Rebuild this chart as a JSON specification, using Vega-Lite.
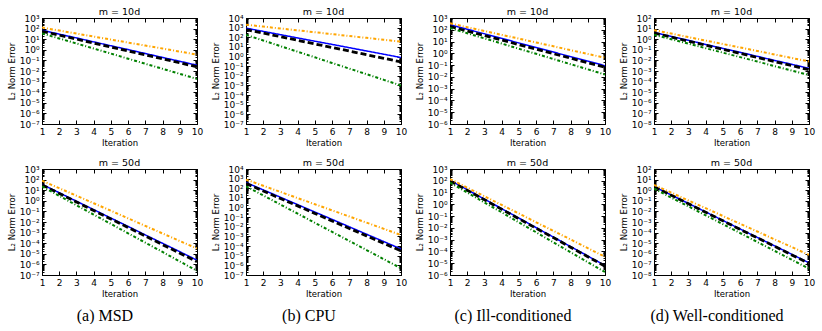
{
  "$schema": "https://vega.github.io/schema/vega-lite/v6.json",
  "background": "white",
  "padding": {"left": 6, "top": 6, "right": 0, "bottom": 0},
  "datasets": {
    "a10": [
      {"it":1,"b":71,"k":56,"o":126,"g":35.5},
      {"it":2,"b":30,"k":24,"o":66,"g":11.7},
      {"it":3,"b":13.2,"k":10.2,"o":34,"g":4.0},
      {"it":4,"b":5.6,"k":4.3,"o":17.8,"g":1.32},
      {"it":5,"b":2.4,"k":1.8,"o":9.3,"g":0.44},
      {"it":6,"b":1.05,"k":0.78,"o":4.8,"g":0.145},
      {"it":7,"b":0.45,"k":0.33,"o":2.5,"g":0.048},
      {"it":8,"b":0.19,"k":0.14,"o":1.32,"g":0.0162},
      {"it":9,"b":0.083,"k":0.059,"o":0.68,"g":0.0054},
      {"it":10,"b":0.035,"k":0.025,"o":0.355,"g":0.00178}
    ],
    "b10": [
      {"it":1,"b":891,"k":631,"o":1995,"g":178},
      {"it":2,"b":407,"k":269,"o":1288,"g":46.8},
      {"it":3,"b":186,"k":115,"o":813,"g":12.0},
      {"it":4,"b":85,"k":48,"o":525,"g":3.16},
      {"it":5,"b":39,"k":20.4,"o":331,"g":0.83},
      {"it":6,"b":18.2,"k":8.7,"o":214,"g":0.214},
      {"it":7,"b":8.3,"k":3.7,"o":135,"g":0.056},
      {"it":8,"b":3.8,"k":1.55,"o":87,"g":0.0148},
      {"it":9,"b":1.74,"k":0.66,"o":55,"g":0.0038},
      {"it":10,"b":0.79,"k":0.28,"o":35.5,"g":0.001}
    ],
    "c10": [
      {"it":1,"b":269,"k":191,"o":355,"g":141},
      {"it":2,"b":110,"k":79,"o":166,"g":51},
      {"it":3,"b":45.7,"k":32,"o":79,"g":18.6},
      {"it":4,"b":18.6,"k":13.5,"o":37,"g":6.8},
      {"it":5,"b":7.6,"k":5.5,"o":17.8,"g":2.45},
      {"it":6,"b":3.16,"k":2.3,"o":8.3,"g":0.91},
      {"it":7,"b":1.29,"k":0.93,"o":4.0,"g":0.33},
      {"it":8,"b":0.525,"k":0.39,"o":1.86,"g":0.12},
      {"it":9,"b":0.219,"k":0.158,"o":0.89,"g":0.044},
      {"it":10,"b":0.089,"k":0.066,"o":0.42,"g":0.0158}
    ],
    "d10": [
      {"it":1,"b":4.4,"k":3.8,"o":7.2,"g":2.6},
      {"it":2,"b":1.82,"k":1.58,"o":3.4,"g":1.0},
      {"it":3,"b":0.78,"k":0.65,"o":1.58,"g":0.38},
      {"it":4,"b":0.32,"k":0.27,"o":0.74,"g":0.141},
      {"it":5,"b":0.135,"k":0.11,"o":0.35,"g":0.054},
      {"it":6,"b":0.058,"k":0.046,"o":0.166,"g":0.0204},
      {"it":7,"b":0.024,"k":0.0186,"o":0.078,"g":0.0078},
      {"it":8,"b":0.01,"k":0.0078,"o":0.036,"g":0.0029},
      {"it":9,"b":0.0043,"k":0.0032,"o":0.017,"g":0.0011},
      {"it":10,"b":0.00178,"k":0.0013,"o":0.0079,"g":0.00042}
    ],
    "a50": [
      {"it":1,"b":35.5,"k":31.6,"o":79,"g":22.4},
      {"it":2,"b":5.8,"k":4.9,"o":15.5,"g":2.95},
      {"it":3,"b":0.91,"k":0.78,"o":3.0,"g":0.38},
      {"it":4,"b":0.148,"k":0.12,"o":0.59,"g":0.05},
      {"it":5,"b":0.0234,"k":0.019,"o":0.115,"g":0.0066},
      {"it":6,"b":0.0038,"k":0.003,"o":0.022,"g":0.00085},
      {"it":7,"b":0.0006,"k":0.00047,"o":0.0043,"g":0.000112},
      {"it":8,"b":9.8e-5,"k":7.2e-5,"o":0.00083,"g":1.48e-5},
      {"it":9,"b":1.58e-5,"k":1.15e-5,"o":0.00016,"g":1.9e-6},
      {"it":10,"b":2.5e-6,"k":1.8e-6,"o":3.2e-5,"g":2.5e-7}
    ],
    "b50": [
      {"it":1,"b":398,"k":316,"o":794,"g":158},
      {"it":2,"b":68,"k":52,"o":182,"g":18.2},
      {"it":3,"b":11.7,"k":8.7,"o":42,"g":2.04},
      {"it":4,"b":2.0,"k":1.48,"o":9.5,"g":0.234},
      {"it":5,"b":0.34,"k":0.245,"o":2.2,"g":0.026},
      {"it":6,"b":0.059,"k":0.041,"o":0.51,"g":0.003},
      {"it":7,"b":0.01,"k":0.0068,"o":0.117,"g":0.00034},
      {"it":8,"b":0.0017,"k":0.00115,"o":0.027,"g":3.9e-5},
      {"it":9,"b":0.000295,"k":0.00019,"o":0.0062,"g":4.4e-6},
      {"it":10,"b":5.0e-5,"k":3.2e-5,"o":0.0014,"g":5.0e-7}
    ],
    "c50": [
      {"it":1,"b":112,"k":100,"o":141,"g":71},
      {"it":2,"b":17.4,"k":15.5,"o":26,"g":10.2},
      {"it":3,"b":2.75,"k":2.45,"o":4.8,"g":1.45},
      {"it":4,"b":0.43,"k":0.38,"o":0.89,"g":0.21},
      {"it":5,"b":0.068,"k":0.06,"o":0.166,"g":0.0295},
      {"it":6,"b":0.0105,"k":0.0093,"o":0.03,"g":0.0043},
      {"it":7,"b":0.00166,"k":0.0015,"o":0.0056,"g":0.0006},
      {"it":8,"b":0.00026,"k":0.00023,"o":0.00105,"g":8.7e-5},
      {"it":9,"b":4.1e-5,"k":3.6e-5,"o":0.00019,"g":1.23e-5},
      {"it":10,"b":6.3e-6,"k":5.6e-6,"o":3.5e-5,"g":1.8e-6}
    ],
    "d50": [
      {"it":1,"b":2.24,"k":2.14,"o":3.16,"g":1.41},
      {"it":2,"b":0.355,"k":0.34,"o":0.59,"g":0.2},
      {"it":3,"b":0.056,"k":0.052,"o":0.107,"g":0.0295},
      {"it":4,"b":0.0089,"k":0.0083,"o":0.02,"g":0.0043},
      {"it":5,"b":0.0014,"k":0.0013,"o":0.0037,"g":0.00062},
      {"it":6,"b":0.00022,"k":0.0002,"o":0.00068,"g":9.1e-5},
      {"it":7,"b":3.5e-5,"k":3.2e-5,"o":0.000126,"g":1.3e-5},
      {"it":8,"b":5.6e-6,"k":5.1e-6,"o":2.3e-5,"g":1.9e-6},
      {"it":9,"b":8.9e-7,"k":7.9e-7,"o":4.3e-6,"g":2.75e-7},
      {"it":10,"b":1.4e-7,"k":1.26e-7,"o":7.9e-7,"g":4.0e-8}
    ]
  },
  "config": {
    "font": "DejaVu Sans",
    "view": {"stroke": "black", "strokeWidth": 1},
    "axis": {
      "grid": false,
      "domainColor": "black",
      "tickColor": "black",
      "labelColor": "black",
      "titleColor": "black",
      "labelFont": "DejaVu Sans",
      "titleFont": "DejaVu Sans",
      "labelFontSize": 9,
      "titleFontSize": 8.5,
      "titleFontWeight": "normal",
      "tickSize": -4,
      "labelPadding": 7,
      "labelFlush": false,
      "labelOverlap": false
    },
    "axisX": {"titlePadding": 2},
    "axisY": {"titlePadding": 3},
    "axisTop": {"minExtent": 0, "maxExtent": 0, "labels": false, "domain": false},
    "axisRight": {"minExtent": 0, "maxExtent": 0, "labels": false, "domain": false},
    "title": {"font": "DejaVu Sans", "fontSize": 9.5, "fontWeight": "normal", "offset": -2, "color": "black"},
    "concat": {"spacing": 6}
  },
  "hconcat": [
    {
      "title": {"text": "(a) MSD", "orient": "bottom", "anchor": "middle", "font": "Liberation Serif", "fontSize": 16, "fontWeight": "normal", "offset": 10},
      "spacing": 10,
      "vconcat": [
        {
          "data": {"name": "a10"}, "title": {"text": "m = 10d", "fontWeight": "normal"}, "width": 155, "height": 106,
          "transform": [{"fold": ["b", "k", "o", "g"], "as": ["s", "e"]}],
          "layer": [
            {
              "mark": {"type": "line", "clip": true},
              "encoding": {
                "x": {"field": "it", "type": "quantitative", "scale": {"domain": [1, 10]}, "axis": {"values": [1,2,3,4,5,6,7,8,9,10], "title": "Iteration"}},
                "y": {"field": "e", "type": "quantitative", "scale": {"type": "log", "domain": [1e-7, 1e3]}, "axis": {"tickCount": 50, "title": "L₂ Norm Error", "tickSize": {"condition": {"test": "abs(log(datum.value)/LN10 - round(log(datum.value)/LN10)) < 0.001", "value": -4}, "value": -2}, "labelExpr": "abs(log(datum.value)/LN10 - round(log(datum.value)/LN10)) < 0.001 ? '10' + (round(log(datum.value)/LN10) < 0 ? '⁻' : '') + substring('⁰¹²³⁴⁵⁶⁷⁸⁹', abs(round(log(datum.value)/LN10)), abs(round(log(datum.value)/LN10)) + 1) : ''"}},
                "color": {"field": "s", "type": "nominal", "scale": {"domain": ["b", "k", "o", "g"], "range": ["#0000ff", "#000000", "#ffa500", "#008000"]}, "legend": null},
                "strokeDash": {"field": "s", "type": "nominal", "scale": {"domain": ["b", "k", "o", "g"], "range": [[1, 0], [6, 3], [3, 2, 1, 2], [3, 2, 1, 2]]}, "legend": null},
                "strokeWidth": {"condition": [{"test": "datum.s === 'k'", "value": 2.8}, {"test": "datum.s === 'b'", "value": 1.5}], "value": 2}
              }
            },
            {
              "mark": {"type": "line", "opacity": 0},
              "encoding": {
                "x": {"field": "it", "type": "quantitative", "scale": {"domain": [1, 10]}, "axis": {"orient": "top", "values": [1,2,3,4,5,6,7,8,9,10], "title": null}},
                "y": {"field": "e", "type": "quantitative", "scale": {"type": "log", "domain": [1e-7, 1e3]}, "axis": {"orient": "right", "tickCount": 50, "title": null, "tickSize": {"condition": {"test": "abs(log(datum.value)/LN10 - round(log(datum.value)/LN10)) < 0.001", "value": -4}, "value": -2}}}
              }
            }
          ],
          "resolve": {"axis": {"x": "independent", "y": "independent"}}
        },
        {
          "data": {"name": "a50"}, "title": {"text": "m = 50d", "fontWeight": "normal"}, "width": 155, "height": 106,
          "transform": [{"fold": ["b", "k", "o", "g"], "as": ["s", "e"]}],
          "layer": [
            {
              "mark": {"type": "line", "clip": true},
              "encoding": {
                "x": {"field": "it", "type": "quantitative", "scale": {"domain": [1, 10]}, "axis": {"values": [1,2,3,4,5,6,7,8,9,10], "title": "Iteration"}},
                "y": {"field": "e", "type": "quantitative", "scale": {"type": "log", "domain": [1e-7, 1e3]}, "axis": {"tickCount": 50, "title": "L₂ Norm Error", "tickSize": {"condition": {"test": "abs(log(datum.value)/LN10 - round(log(datum.value)/LN10)) < 0.001", "value": -4}, "value": -2}, "labelExpr": "abs(log(datum.value)/LN10 - round(log(datum.value)/LN10)) < 0.001 ? '10' + (round(log(datum.value)/LN10) < 0 ? '⁻' : '') + substring('⁰¹²³⁴⁵⁶⁷⁸⁹', abs(round(log(datum.value)/LN10)), abs(round(log(datum.value)/LN10)) + 1) : ''"}},
                "color": {"field": "s", "type": "nominal", "scale": {"domain": ["b", "k", "o", "g"], "range": ["#0000ff", "#000000", "#ffa500", "#008000"]}, "legend": null},
                "strokeDash": {"field": "s", "type": "nominal", "scale": {"domain": ["b", "k", "o", "g"], "range": [[1, 0], [6, 3], [3, 2, 1, 2], [3, 2, 1, 2]]}, "legend": null},
                "strokeWidth": {"condition": [{"test": "datum.s === 'k'", "value": 2.8}, {"test": "datum.s === 'b'", "value": 1.5}], "value": 2}
              }
            },
            {
              "mark": {"type": "line", "opacity": 0},
              "encoding": {
                "x": {"field": "it", "type": "quantitative", "scale": {"domain": [1, 10]}, "axis": {"orient": "top", "values": [1,2,3,4,5,6,7,8,9,10], "title": null}},
                "y": {"field": "e", "type": "quantitative", "scale": {"type": "log", "domain": [1e-7, 1e3]}, "axis": {"orient": "right", "tickCount": 50, "title": null, "tickSize": {"condition": {"test": "abs(log(datum.value)/LN10 - round(log(datum.value)/LN10)) < 0.001", "value": -4}, "value": -2}}}
              }
            }
          ],
          "resolve": {"axis": {"x": "independent", "y": "independent"}}
        }
      ]
    },
    {
      "title": {"text": "(b) CPU", "orient": "bottom", "anchor": "middle", "font": "Liberation Serif", "fontSize": 16, "fontWeight": "normal", "offset": 10},
      "spacing": 10,
      "vconcat": [
        {
          "data": {"name": "b10"}, "title": {"text": "m = 10d", "fontWeight": "normal"}, "width": 155, "height": 106,
          "transform": [{"fold": ["b", "k", "o", "g"], "as": ["s", "e"]}],
          "layer": [
            {
              "mark": {"type": "line", "clip": true},
              "encoding": {
                "x": {"field": "it", "type": "quantitative", "scale": {"domain": [1, 10]}, "axis": {"values": [1,2,3,4,5,6,7,8,9,10], "title": "Iteration"}},
                "y": {"field": "e", "type": "quantitative", "scale": {"type": "log", "domain": [1e-7, 1e4]}, "axis": {"tickCount": 50, "title": "L₂ Norm Error", "tickSize": {"condition": {"test": "abs(log(datum.value)/LN10 - round(log(datum.value)/LN10)) < 0.001", "value": -4}, "value": -2}, "labelExpr": "abs(log(datum.value)/LN10 - round(log(datum.value)/LN10)) < 0.001 ? '10' + (round(log(datum.value)/LN10) < 0 ? '⁻' : '') + substring('⁰¹²³⁴⁵⁶⁷⁸⁹', abs(round(log(datum.value)/LN10)), abs(round(log(datum.value)/LN10)) + 1) : ''"}},
                "color": {"field": "s", "type": "nominal", "scale": {"domain": ["b", "k", "o", "g"], "range": ["#0000ff", "#000000", "#ffa500", "#008000"]}, "legend": null},
                "strokeDash": {"field": "s", "type": "nominal", "scale": {"domain": ["b", "k", "o", "g"], "range": [[1, 0], [6, 3], [3, 2, 1, 2], [3, 2, 1, 2]]}, "legend": null},
                "strokeWidth": {"condition": [{"test": "datum.s === 'k'", "value": 2.8}, {"test": "datum.s === 'b'", "value": 1.5}], "value": 2}
              }
            },
            {
              "mark": {"type": "line", "opacity": 0},
              "encoding": {
                "x": {"field": "it", "type": "quantitative", "scale": {"domain": [1, 10]}, "axis": {"orient": "top", "values": [1,2,3,4,5,6,7,8,9,10], "title": null}},
                "y": {"field": "e", "type": "quantitative", "scale": {"type": "log", "domain": [1e-7, 1e4]}, "axis": {"orient": "right", "tickCount": 50, "title": null, "tickSize": {"condition": {"test": "abs(log(datum.value)/LN10 - round(log(datum.value)/LN10)) < 0.001", "value": -4}, "value": -2}}}
              }
            }
          ],
          "resolve": {"axis": {"x": "independent", "y": "independent"}}
        },
        {
          "data": {"name": "b50"}, "title": {"text": "m = 50d", "fontWeight": "normal"}, "width": 155, "height": 106,
          "transform": [{"fold": ["b", "k", "o", "g"], "as": ["s", "e"]}],
          "layer": [
            {
              "mark": {"type": "line", "clip": true},
              "encoding": {
                "x": {"field": "it", "type": "quantitative", "scale": {"domain": [1, 10]}, "axis": {"values": [1,2,3,4,5,6,7,8,9,10], "title": "Iteration"}},
                "y": {"field": "e", "type": "quantitative", "scale": {"type": "log", "domain": [1e-7, 1e4]}, "axis": {"tickCount": 50, "title": "L₂ Norm Error", "tickSize": {"condition": {"test": "abs(log(datum.value)/LN10 - round(log(datum.value)/LN10)) < 0.001", "value": -4}, "value": -2}, "labelExpr": "abs(log(datum.value)/LN10 - round(log(datum.value)/LN10)) < 0.001 ? '10' + (round(log(datum.value)/LN10) < 0 ? '⁻' : '') + substring('⁰¹²³⁴⁵⁶⁷⁸⁹', abs(round(log(datum.value)/LN10)), abs(round(log(datum.value)/LN10)) + 1) : ''"}},
                "color": {"field": "s", "type": "nominal", "scale": {"domain": ["b", "k", "o", "g"], "range": ["#0000ff", "#000000", "#ffa500", "#008000"]}, "legend": null},
                "strokeDash": {"field": "s", "type": "nominal", "scale": {"domain": ["b", "k", "o", "g"], "range": [[1, 0], [6, 3], [3, 2, 1, 2], [3, 2, 1, 2]]}, "legend": null},
                "strokeWidth": {"condition": [{"test": "datum.s === 'k'", "value": 2.8}, {"test": "datum.s === 'b'", "value": 1.5}], "value": 2}
              }
            },
            {
              "mark": {"type": "line", "opacity": 0},
              "encoding": {
                "x": {"field": "it", "type": "quantitative", "scale": {"domain": [1, 10]}, "axis": {"orient": "top", "values": [1,2,3,4,5,6,7,8,9,10], "title": null}},
                "y": {"field": "e", "type": "quantitative", "scale": {"type": "log", "domain": [1e-7, 1e4]}, "axis": {"orient": "right", "tickCount": 50, "title": null, "tickSize": {"condition": {"test": "abs(log(datum.value)/LN10 - round(log(datum.value)/LN10)) < 0.001", "value": -4}, "value": -2}}}
              }
            }
          ],
          "resolve": {"axis": {"x": "independent", "y": "independent"}}
        }
      ]
    },
    {
      "title": {"text": "(c) Ill-conditioned", "orient": "bottom", "anchor": "middle", "font": "Liberation Serif", "fontSize": 16, "fontWeight": "normal", "offset": 10},
      "spacing": 10,
      "vconcat": [
        {
          "data": {"name": "c10"}, "title": {"text": "m = 10d", "fontWeight": "normal"}, "width": 155, "height": 106,
          "transform": [{"fold": ["b", "k", "o", "g"], "as": ["s", "e"]}],
          "layer": [
            {
              "mark": {"type": "line", "clip": true},
              "encoding": {
                "x": {"field": "it", "type": "quantitative", "scale": {"domain": [1, 10]}, "axis": {"values": [1,2,3,4,5,6,7,8,9,10], "title": "Iteration"}},
                "y": {"field": "e", "type": "quantitative", "scale": {"type": "log", "domain": [1e-6, 1e3]}, "axis": {"tickCount": 50, "title": "L₂ Norm Error", "tickSize": {"condition": {"test": "abs(log(datum.value)/LN10 - round(log(datum.value)/LN10)) < 0.001", "value": -4}, "value": -2}, "labelExpr": "abs(log(datum.value)/LN10 - round(log(datum.value)/LN10)) < 0.001 ? '10' + (round(log(datum.value)/LN10) < 0 ? '⁻' : '') + substring('⁰¹²³⁴⁵⁶⁷⁸⁹', abs(round(log(datum.value)/LN10)), abs(round(log(datum.value)/LN10)) + 1) : ''"}},
                "color": {"field": "s", "type": "nominal", "scale": {"domain": ["b", "k", "o", "g"], "range": ["#0000ff", "#000000", "#ffa500", "#008000"]}, "legend": null},
                "strokeDash": {"field": "s", "type": "nominal", "scale": {"domain": ["b", "k", "o", "g"], "range": [[1, 0], [6, 3], [3, 2, 1, 2], [3, 2, 1, 2]]}, "legend": null},
                "strokeWidth": {"condition": [{"test": "datum.s === 'k'", "value": 2.8}, {"test": "datum.s === 'b'", "value": 1.5}], "value": 2}
              }
            },
            {
              "mark": {"type": "line", "opacity": 0},
              "encoding": {
                "x": {"field": "it", "type": "quantitative", "scale": {"domain": [1, 10]}, "axis": {"orient": "top", "values": [1,2,3,4,5,6,7,8,9,10], "title": null}},
                "y": {"field": "e", "type": "quantitative", "scale": {"type": "log", "domain": [1e-6, 1e3]}, "axis": {"orient": "right", "tickCount": 50, "title": null, "tickSize": {"condition": {"test": "abs(log(datum.value)/LN10 - round(log(datum.value)/LN10)) < 0.001", "value": -4}, "value": -2}}}
              }
            }
          ],
          "resolve": {"axis": {"x": "independent", "y": "independent"}}
        },
        {
          "data": {"name": "c50"}, "title": {"text": "m = 50d", "fontWeight": "normal"}, "width": 155, "height": 106,
          "transform": [{"fold": ["b", "k", "o", "g"], "as": ["s", "e"]}],
          "layer": [
            {
              "mark": {"type": "line", "clip": true},
              "encoding": {
                "x": {"field": "it", "type": "quantitative", "scale": {"domain": [1, 10]}, "axis": {"values": [1,2,3,4,5,6,7,8,9,10], "title": "Iteration"}},
                "y": {"field": "e", "type": "quantitative", "scale": {"type": "log", "domain": [1e-6, 1e3]}, "axis": {"tickCount": 50, "title": "L₂ Norm Error", "tickSize": {"condition": {"test": "abs(log(datum.value)/LN10 - round(log(datum.value)/LN10)) < 0.001", "value": -4}, "value": -2}, "labelExpr": "abs(log(datum.value)/LN10 - round(log(datum.value)/LN10)) < 0.001 ? '10' + (round(log(datum.value)/LN10) < 0 ? '⁻' : '') + substring('⁰¹²³⁴⁵⁶⁷⁸⁹', abs(round(log(datum.value)/LN10)), abs(round(log(datum.value)/LN10)) + 1) : ''"}},
                "color": {"field": "s", "type": "nominal", "scale": {"domain": ["b", "k", "o", "g"], "range": ["#0000ff", "#000000", "#ffa500", "#008000"]}, "legend": null},
                "strokeDash": {"field": "s", "type": "nominal", "scale": {"domain": ["b", "k", "o", "g"], "range": [[1, 0], [6, 3], [3, 2, 1, 2], [3, 2, 1, 2]]}, "legend": null},
                "strokeWidth": {"condition": [{"test": "datum.s === 'k'", "value": 2.8}, {"test": "datum.s === 'b'", "value": 1.5}], "value": 2}
              }
            },
            {
              "mark": {"type": "line", "opacity": 0},
              "encoding": {
                "x": {"field": "it", "type": "quantitative", "scale": {"domain": [1, 10]}, "axis": {"orient": "top", "values": [1,2,3,4,5,6,7,8,9,10], "title": null}},
                "y": {"field": "e", "type": "quantitative", "scale": {"type": "log", "domain": [1e-6, 1e3]}, "axis": {"orient": "right", "tickCount": 50, "title": null, "tickSize": {"condition": {"test": "abs(log(datum.value)/LN10 - round(log(datum.value)/LN10)) < 0.001", "value": -4}, "value": -2}}}
              }
            }
          ],
          "resolve": {"axis": {"x": "independent", "y": "independent"}}
        }
      ]
    },
    {
      "title": {"text": "(d) Well-conditioned", "orient": "bottom", "anchor": "middle", "font": "Liberation Serif", "fontSize": 16, "fontWeight": "normal", "offset": 10},
      "spacing": 10,
      "vconcat": [
        {
          "data": {"name": "d10"}, "title": {"text": "m = 10d", "fontWeight": "normal"}, "width": 155, "height": 106,
          "transform": [{"fold": ["b", "k", "o", "g"], "as": ["s", "e"]}],
          "layer": [
            {
              "mark": {"type": "line", "clip": true},
              "encoding": {
                "x": {"field": "it", "type": "quantitative", "scale": {"domain": [1, 10]}, "axis": {"values": [1,2,3,4,5,6,7,8,9,10], "title": "Iteration"}},
                "y": {"field": "e", "type": "quantitative", "scale": {"type": "log", "domain": [1e-8, 1e2]}, "axis": {"tickCount": 50, "title": "L₂ Norm Error", "tickSize": {"condition": {"test": "abs(log(datum.value)/LN10 - round(log(datum.value)/LN10)) < 0.001", "value": -4}, "value": -2}, "labelExpr": "abs(log(datum.value)/LN10 - round(log(datum.value)/LN10)) < 0.001 ? '10' + (round(log(datum.value)/LN10) < 0 ? '⁻' : '') + substring('⁰¹²³⁴⁵⁶⁷⁸⁹', abs(round(log(datum.value)/LN10)), abs(round(log(datum.value)/LN10)) + 1) : ''"}},
                "color": {"field": "s", "type": "nominal", "scale": {"domain": ["b", "k", "o", "g"], "range": ["#0000ff", "#000000", "#ffa500", "#008000"]}, "legend": null},
                "strokeDash": {"field": "s", "type": "nominal", "scale": {"domain": ["b", "k", "o", "g"], "range": [[1, 0], [6, 3], [3, 2, 1, 2], [3, 2, 1, 2]]}, "legend": null},
                "strokeWidth": {"condition": [{"test": "datum.s === 'k'", "value": 2.8}, {"test": "datum.s === 'b'", "value": 1.5}], "value": 2}
              }
            },
            {
              "mark": {"type": "line", "opacity": 0},
              "encoding": {
                "x": {"field": "it", "type": "quantitative", "scale": {"domain": [1, 10]}, "axis": {"orient": "top", "values": [1,2,3,4,5,6,7,8,9,10], "title": null}},
                "y": {"field": "e", "type": "quantitative", "scale": {"type": "log", "domain": [1e-8, 1e2]}, "axis": {"orient": "right", "tickCount": 50, "title": null, "tickSize": {"condition": {"test": "abs(log(datum.value)/LN10 - round(log(datum.value)/LN10)) < 0.001", "value": -4}, "value": -2}}}
              }
            }
          ],
          "resolve": {"axis": {"x": "independent", "y": "independent"}}
        },
        {
          "data": {"name": "d50"}, "title": {"text": "m = 50d", "fontWeight": "normal"}, "width": 155, "height": 106,
          "transform": [{"fold": ["b", "k", "o", "g"], "as": ["s", "e"]}],
          "layer": [
            {
              "mark": {"type": "line", "clip": true},
              "encoding": {
                "x": {"field": "it", "type": "quantitative", "scale": {"domain": [1, 10]}, "axis": {"values": [1,2,3,4,5,6,7,8,9,10], "title": "Iteration"}},
                "y": {"field": "e", "type": "quantitative", "scale": {"type": "log", "domain": [1e-8, 1e2]}, "axis": {"tickCount": 50, "title": "L₂ Norm Error", "tickSize": {"condition": {"test": "abs(log(datum.value)/LN10 - round(log(datum.value)/LN10)) < 0.001", "value": -4}, "value": -2}, "labelExpr": "abs(log(datum.value)/LN10 - round(log(datum.value)/LN10)) < 0.001 ? '10' + (round(log(datum.value)/LN10) < 0 ? '⁻' : '') + substring('⁰¹²³⁴⁵⁶⁷⁸⁹', abs(round(log(datum.value)/LN10)), abs(round(log(datum.value)/LN10)) + 1) : ''"}},
                "color": {"field": "s", "type": "nominal", "scale": {"domain": ["b", "k", "o", "g"], "range": ["#0000ff", "#000000", "#ffa500", "#008000"]}, "legend": null},
                "strokeDash": {"field": "s", "type": "nominal", "scale": {"domain": ["b", "k", "o", "g"], "range": [[1, 0], [6, 3], [3, 2, 1, 2], [3, 2, 1, 2]]}, "legend": null},
                "strokeWidth": {"condition": [{"test": "datum.s === 'k'", "value": 2.8}, {"test": "datum.s === 'b'", "value": 1.5}], "value": 2}
              }
            },
            {
              "mark": {"type": "line", "opacity": 0},
              "encoding": {
                "x": {"field": "it", "type": "quantitative", "scale": {"domain": [1, 10]}, "axis": {"orient": "top", "values": [1,2,3,4,5,6,7,8,9,10], "title": null}},
                "y": {"field": "e", "type": "quantitative", "scale": {"type": "log", "domain": [1e-8, 1e2]}, "axis": {"orient": "right", "tickCount": 50, "title": null, "tickSize": {"condition": {"test": "abs(log(datum.value)/LN10 - round(log(datum.value)/LN10)) < 0.001", "value": -4}, "value": -2}}}
              }
            }
          ],
          "resolve": {"axis": {"x": "independent", "y": "independent"}}
        }
      ]
    }
  ]
}
